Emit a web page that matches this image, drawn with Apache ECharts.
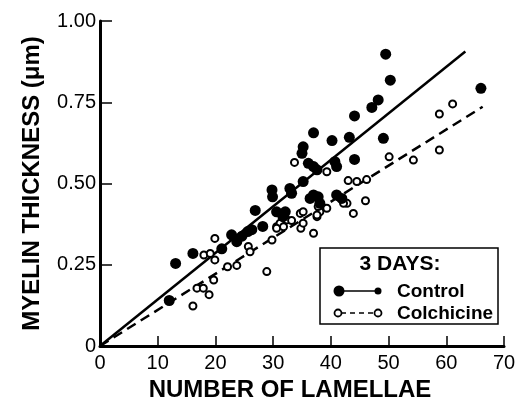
<!DOCTYPE html>
<html>
<head>
<meta charset="utf-8">
<title>Myelin thickness vs lamellae</title>
<script src="https://cdn.jsdelivr.net/npm/echarts@6/dist/echarts.min.js"></script>
<style>
  html, body { margin: 0; padding: 0; background: #fff; }
  #chart { width: 518px; height: 404px; }
</style>
</head>
<body>
<div id="chart"></div>
<script>
// values (x = number of lamellae, y = myelin thickness in um)
var controlX = [13.1, 16.1, 21.1, 22.8, 23.7, 24.6, 25.6, 26.3, 26.9, 28.2, 29.8, 29.9, 30.6, 32.1, 31.7,
  32.9, 33.2, 35.2, 35.2, 35.0, 36.1, 37.0, 37.6, 37.0, 40.2, 40.7, 41.0, 36.4, 37.0, 37.8,
  38.1, 41.0, 41.9, 43.2, 44.1, 44.1, 47.1, 48.2, 49.1, 49.5, 50.3, 66.0, 12.0];
var controlY = [0.254, 0.285, 0.299, 0.342, 0.321, 0.338, 0.352, 0.358, 0.417, 0.368, 0.48, 0.459, 0.413, 0.413, 0.398,
  0.485, 0.47, 0.506, 0.613, 0.593, 0.562, 0.552, 0.542, 0.656, 0.632, 0.567, 0.552, 0.454, 0.465, 0.459,
  0.439, 0.465, 0.454, 0.642, 0.574, 0.708, 0.734, 0.757, 0.639, 0.898, 0.818, 0.793, 0.14];

var colchX = [16.1, 16.8, 17.9, 18.9, 19.7, 18.0, 19.1, 19.9, 19.9, 22.1, 23.7, 25.7, 26.0, 28.9, 29.8,
  30.6, 31.2, 32.4, 33.2, 33.7, 34.7, 35.2, 34.8, 35.2, 37.0, 37.6, 38.1, 37.8, 39.3, 42.8,
  43.9, 46.0, 43.0, 44.5, 46.2, 50.1, 54.3, 58.8, 61.1, 58.8, 31.8, 30.6, 41.3, 42.2, 37.6, 39.3];
var colchY = [0.123, 0.178, 0.178, 0.158, 0.203, 0.28, 0.285, 0.331, 0.265, 0.244, 0.248, 0.306, 0.29, 0.229, 0.326,
  0.367, 0.378, 0.388, 0.386, 0.565, 0.408, 0.413, 0.362, 0.378, 0.347, 0.398, 0.413, 0.429, 0.424, 0.439,
  0.408, 0.447, 0.509, 0.506, 0.512, 0.582, 0.572, 0.714, 0.745, 0.603, 0.367, 0.362, 0.459, 0.439, 0.403, 0.536];

// regression lines through the origin
var controlFitX = [0, 63.3];
var controlFitY = [0, 0.906];
var colchFitX = [0, 66.3];
var colchFitY = [0, 0.736];

var xTicks = ['0', '10', '20', '30', '40', '50', '60', '70'];
var yTicks = ['0', '0.25', '0.50', '0.75', '1.00'];

function pairs(xs, ys) {
  var out = [];
  for (var i = 0; i < xs.length; i++) {
    out.push([xs[i], ys[i]]);
  }
  return out;
}

var ink = '#000';
var chart = echarts.init(document.getElementById('chart'));

chart.setOption({
  backgroundColor: '#fff',
  animation: false,
  grid: {
    left: 100,
    right: 14,
    top: 21,
    bottom: 58,
    outerBoundsMode: 'none' // keep the plot box where it is, v6 would shrink it
  },
  xAxis: {
    type: 'value',
    min: 0,
    max: 70,
    interval: 10,
    name: 'NUMBER OF LAMELLAE',
    nameLocation: 'middle',
    nameGap: 32,
    nameTextStyle: {
      fontFamily: 'Liberation Sans',
      fontWeight: 'bold',
      fontSize: 24,
      color: ink,
      padding: [0, 24, 0, 0]
    },
    axisLine: { lineStyle: { color: ink, width: 3 } },
    axisTick: { inside: true, length: 10, lineStyle: { color: ink, width: 1.5 } },
    splitLine: { show: false },
    axisLabel: {
      margin: 7,
      fontFamily: 'Liberation Sans',
      fontSize: 20,
      color: ink,
      formatter: function (v) { return xTicks[Math.round(v / 10)]; }
    }
  },
  yAxis: {
    type: 'value',
    min: 0,
    max: 1,
    interval: 0.25,
    name: 'MYELIN THICKNESS (μm)',
    nameLocation: 'middle',
    nameRotate: 90,
    nameGap: 56,
    nameTextStyle: {
      fontFamily: 'Liberation Sans',
      fontWeight: 'bold',
      fontSize: 24,
      color: ink
    },
    axisLine: { show: true, lineStyle: { color: ink, width: 3 } },
    axisTick: { show: true, inside: true, length: 12, lineStyle: { color: ink, width: 1.5 } },
    splitLine: { show: false },
    axisLabel: {
      margin: 4,
      fontFamily: 'Liberation Sans',
      fontSize: 20,
      color: ink,
      formatter: function (v) { return yTicks[Math.round(v / 0.25)]; }
    }
  },
  series: [
    {
      name: 'Control fit',
      type: 'line',
      data: pairs(controlFitX, controlFitY),
      showSymbol: false,
      lineStyle: { color: ink, width: 2.5 },
      z: 1
    },
    {
      name: 'Colchicine fit',
      type: 'line',
      data: pairs(colchFitX, colchFitY),
      showSymbol: false,
      lineStyle: { color: ink, width: 2.5, type: [10, 6] },
      z: 1
    },
    {
      name: 'Control',
      type: 'scatter',
      data: pairs(controlX, controlY),
      symbol: 'circle',
      symbolSize: 11,
      itemStyle: { color: ink, opacity: 1 },
      z: 3
    },
    {
      name: 'Colchicine',
      type: 'scatter',
      data: pairs(colchX, colchY),
      symbol: 'circle',
      symbolSize: 7,
      itemStyle: { color: '#fff', borderColor: ink, borderWidth: 2, opacity: 1 },
      z: 2
    }
  ],
  // boxed key in the lower right, drawn by hand like the original
  graphic: [
    {
      type: 'rect',
      shape: { x: 320, y: 248, width: 178, height: 76 },
      style: { fill: '#fff', stroke: ink, lineWidth: 1.5 },
      z: 10
    },
    {
      type: 'text',
      x: 400, y: 264,
      style: { text: '3 DAYS:', fill: ink, font: 'bold 21px "Liberation Sans"', textAlign: 'center', textVerticalAlign: 'middle' },
      z: 11
    },
    {
      type: 'line',
      shape: { x1: 339, y1: 291, x2: 378, y2: 291 },
      style: { stroke: ink, lineWidth: 1.5 },
      z: 11
    },
    { type: 'circle', shape: { cx: 339, cy: 291, r: 5.5 }, style: { fill: ink }, z: 12 },
    { type: 'circle', shape: { cx: 378, cy: 291, r: 3.5 }, style: { fill: ink }, z: 12 },
    {
      type: 'text',
      x: 397, y: 292,
      style: { text: 'Control', fill: ink, font: 'bold 19px "Liberation Sans"', textVerticalAlign: 'middle' },
      z: 11
    },
    {
      type: 'line',
      shape: { x1: 341, y1: 313, x2: 375, y2: 313 },
      style: { stroke: ink, lineWidth: 1.5, lineDash: [5, 4] },
      z: 11
    },
    { type: 'circle', shape: { cx: 338, cy: 313, r: 3.5 }, style: { fill: '#fff', stroke: ink, lineWidth: 1.8 }, z: 12 },
    { type: 'circle', shape: { cx: 378, cy: 313, r: 3.5 }, style: { fill: '#fff', stroke: ink, lineWidth: 1.8 }, z: 12 },
    {
      type: 'text',
      x: 397, y: 314,
      style: { text: 'Colchicine', fill: ink, font: 'bold 19px "Liberation Sans"', textVerticalAlign: 'middle' },
      z: 11
    }
  ]
});
</script>
</body>
</html>
